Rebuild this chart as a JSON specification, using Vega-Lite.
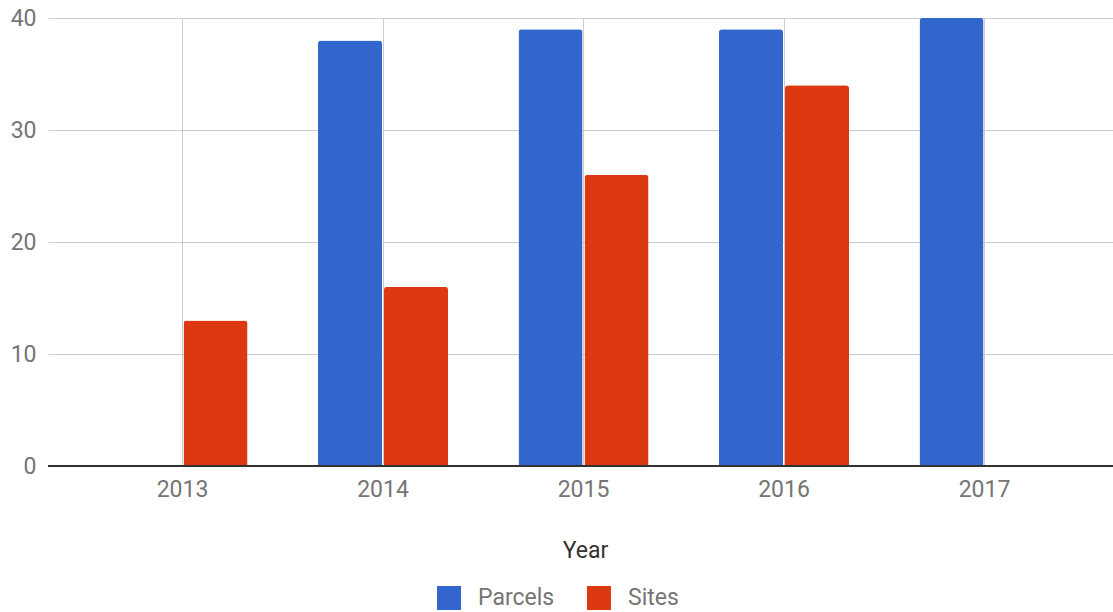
{
  "$schema": "https://vega.github.io/schema/vega-lite/v6.json",
  "width": 1065,
  "height": 448,
  "autosize": {"type": "none"},
  "padding": {"left": 48, "top": 18, "right": 0, "bottom": 146},
  "config": {"view": {"stroke": null}, "font": "Roboto"},
  "data": {
    "values": [
      {"Year": "2013", "Series": "Sites", "Value": 13},
      {"Year": "2014", "Series": "Parcels", "Value": 38},
      {"Year": "2014", "Series": "Sites", "Value": 16},
      {"Year": "2015", "Series": "Parcels", "Value": 39},
      {"Year": "2015", "Series": "Sites", "Value": 26},
      {"Year": "2016", "Series": "Parcels", "Value": 39},
      {"Year": "2016", "Series": "Sites", "Value": 34},
      {"Year": "2017", "Series": "Parcels", "Value": 40}
    ]
  },
  "layer": [
    {
      "mark": {"type": "bar", "cornerRadiusTopLeft": 3, "cornerRadiusTopRight": 3},
      "encoding": {
        "x": {
          "field": "Year",
          "type": "nominal",
          "scale": {"paddingInner": 0.3516, "paddingOuter": 0.3317, "align": 0.5226},
          "axis": {
            "title": "Year",
            "labelAngle": 0,
            "grid": true,
            "gridColor": "#cccccc",
            "bandPosition": 0.5,
            "domain": false,
            "ticks": false,
            "tickSize": 0,
            "labelPadding": 12,
            "labelFontSize": 23,
            "labelColor": "#757575",
            "titleFontSize": 23,
            "titleColor": "#333333",
            "titleFontWeight": "normal",
            "titleBaseline": "alphabetic",
            "titleY": 91,
            "titleX": 537,
            "titleAlign": "center"
          }
        },
        "xOffset": {
          "field": "Series",
          "type": "nominal",
          "scale": {"domain": ["Parcels", "Sites"], "paddingInner": 0.0303, "paddingOuter": 0}
        },
        "y": {
          "field": "Value",
          "type": "quantitative",
          "scale": {"domain": [0, 40], "nice": false},
          "axis": {
            "values": [0, 10, 20, 30, 40],
            "title": null,
            "domain": false,
            "ticks": false,
            "tickSize": 0,
            "labelPadding": 12,
            "labelFontSize": 23,
            "labelColor": "#757575",
            "gridColor": "#cccccc"
          }
        },
        "color": {
          "field": "Series",
          "type": "nominal",
          "scale": {"domain": ["Parcels", "Sites"], "range": ["#3366CC", "#DC3912"]},
          "legend": {
            "orient": "none",
            "legendX": 389,
            "legendY": 568,
            "direction": "horizontal",
            "title": null,
            "symbolType": "square",
            "symbolSize": 576,
            "symbolStrokeWidth": 0,
            "labelFontSize": 23,
            "labelColor": "#757575",
            "labelOffset": 17,
            "columnPadding": 32,
            "padding": 0
          }
        }
      }
    },
    {
      "mark": {"type": "rule", "color": "#333333", "strokeWidth": 1.5},
      "encoding": {"y": {"datum": 0}}
    }
  ]
}
